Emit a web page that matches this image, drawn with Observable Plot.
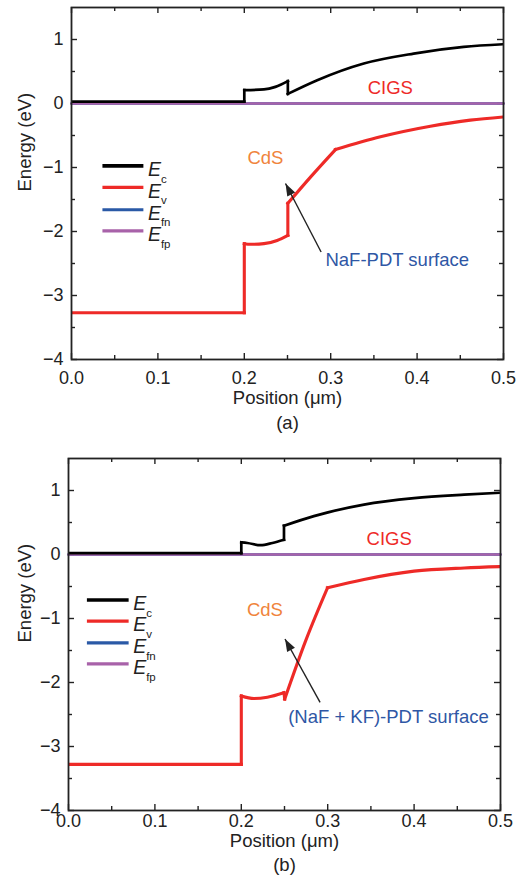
<!DOCTYPE html>
<html><head><meta charset="utf-8">
<script src="https://cdn.jsdelivr.net/npm/d3@7"></script>
<script src="https://cdn.jsdelivr.net/npm/@observablehq/plot@0.6"></script>
<style>
body{margin:0;background:#fff;}
#chart svg{display:block;}
</style></head><body><div id="chart"></div>
<script>
// ---------- data ----------
const xDomain = [0, 0.5];
const yDomain = [-4, 1.5];
const xTicks = [0, 0.1, 0.2, 0.3, 0.4, 0.5];
const xMinorTicks = [0.05, 0.15, 0.25, 0.35, 0.45];
const yTicks = [-4, -3, -2, -1, 0, 1];
const yMinorTicks = [-3.5, -2.5, -1.5, -0.5, 0.5];

// Panel (a): NaF-PDT surface
const ecA_x = [0, 0.2, 0.2, 0.2227, 0.236, 0.2504, 0.2504, 0.2844, 0.3383, 0.396, 0.454, 0.5];
const ecA_y = [0.03, 0.03, 0.21, 0.22, 0.26, 0.35, 0.15, 0.364, 0.625, 0.78, 0.884, 0.926];
const evA_x = [0, 0.2, 0.2, 0.207, 0.2227, 0.238, 0.2504, 0.2504, 0.2766, 0.3055, 0.3576, 0.4154, 0.4616, 0.5];
const evA_y = [-3.27, -3.27, -2.19, -2.2, -2.19, -2.14, -2.06, -1.56, -1.15, -0.72, -0.52, -0.355, -0.26, -0.21];

// Panel (b): (NaF + KF)-PDT surface
const ecB_x = [0, 0.2, 0.2, 0.207, 0.2224, 0.236, 0.2494, 0.2494, 0.284, 0.342, 0.40, 0.458, 0.5];
const ecB_y = [0.02, 0.02, 0.19, 0.18, 0.145, 0.18, 0.23, 0.45, 0.60, 0.78, 0.88, 0.935, 0.965];
const evB_x = [0, 0.2, 0.2, 0.2146, 0.2302, 0.2494, 0.2502, 0.275, 0.2998, 0.342, 0.40, 0.458, 0.5];
const evB_y = [-3.28, -3.28, -2.21, -2.25, -2.23, -2.16, -2.26, -1.33, -0.52, -0.39, -0.26, -0.21, -0.19];

// Quasi-Fermi levels (both panels)
const ef_x = [0, 0.5];
const efn_y = [0, 0];
const efp_y = [0, 0];

// Legend
const legendSubs = ["c", "v", "fn", "fp"];
const legendColors = ["#000000", "#ee2a27", "#2a59a6", "#a862a9"];

// ---------- drawing ----------
const FONT = "'Liberation Sans', Arial, Helvetica, sans-serif";
const rows = (xs, ys) => xs.map((x, i) => ({x, y: ys[i]}));
// split a band into smooth runs: abrupt steps (same x) become straight pieces,
// sharp kinks start a new run so the smoothing does not round them off
function segments(xs, ys) {
  const pts = rows(xs, ys);
  const out = [];
  let seg = 0;
  const slope = (a, b) => (b.y - a.y) / (b.x - a.x);
  for (let i = 0; i < pts.length; i++) {
    const p = pts[i];
    if (i > 0 && p.x === pts[i - 1].x) {
      seg++;
      out.push({...pts[i - 1], z: seg});
      out.push({...p, z: seg});
      seg++;
      out.push({...p, z: seg});
      continue;
    }
    out.push({...p, z: seg});
    if (i > 0 && i < pts.length - 1 && pts[i + 1].x !== p.x && pts[i - 1].x !== p.x) {
      const s0 = slope(pts[i - 1], p), s1 = slope(p, pts[i + 1]);
      const hi = Math.max(Math.abs(s0), Math.abs(s1)), lo = Math.min(Math.abs(s0), Math.abs(s1));
      if (hi > 5 && (Math.sign(s0) !== Math.sign(s1) || hi / lo > 3.5)) {
        seg++;
        out.push({...p, z: seg});
      }
    }
  }
  return out;
}

const headSymbol = {
  draw(ctx, size) {
    const s = Math.sqrt(size);
    ctx.moveTo(0, 0);
    ctx.lineTo(-s * 0.36, s);
    ctx.lineTo(s * 0.36, s);
    ctx.closePath();
  }
};

function panel(cfg) {
  const W = 521;
  const {ml, mr, mt, mb, H} = cfg;
  const kx = (W - ml - mr) / (xDomain[1] - xDomain[0]);
  const ky = (H - mt - mb) / (yDomain[1] - yDomain[0]);
  const majX = 6 / ky, minX = 4 / ky, majY = 6 / kx, minY = 4 / kx;
  const a = cfg.arrow;
  const angle = Math.atan2((a.x2 - a.x1) * kx, (a.y2 - a.y1) * ky) * 180 / Math.PI;
  const ink = "#222";
  const tickRules = [];
  for (const [arr, len] of [[xTicks, majX], [xMinorTicks, minX]]) {
    tickRules.push(Plot.ruleX(arr, {x: d => d, y1: yDomain[0], y2: yDomain[0] + len, stroke: ink, strokeWidth: 1.4}));
    tickRules.push(Plot.ruleX(arr, {x: d => d, y1: yDomain[1], y2: yDomain[1] - len, stroke: ink, strokeWidth: 1.4}));
  }
  for (const [arr, len] of [[yTicks, majY], [yMinorTicks, minY]]) {
    tickRules.push(Plot.ruleY(arr, {y: d => d, x1: xDomain[0], x2: xDomain[0] + len, stroke: ink, strokeWidth: 1.4}));
    tickRules.push(Plot.ruleY(arr, {y: d => d, x1: xDomain[1], x2: xDomain[1] - len, stroke: ink, strokeWidth: 1.4}));
  }
  const leg = legendSubs.map((s, i) => ({s, c: legendColors[i], y: cfg.legendY[i], w: i === 0 ? 3.6 : 3.2}));
  const band = {x: "x", y: "y", z: "z", curve: "monotone-x", strokeLinecap: "square", strokeLinejoin: "miter", clip: true};
  return Plot.plot({
    width: W, height: H,
    marginLeft: ml, marginRight: mr, marginTop: mt, marginBottom: mb,
    style: {fontFamily: FONT, fontSize: "18px", color: ink, background: "#fff"},
    x: {domain: xDomain, axis: null},
    y: {domain: yDomain, axis: null},
    marks: [
      Plot.axisX(xTicks, {anchor: "bottom", tickSize: 0, tickPadding: cfg.xPad, tickFormat: d3.format(".1f"), label: null, fontSize: 18}),
      Plot.axisY(yTicks, {anchor: "left", tickSize: 0, tickPadding: 8, tickFormat: d3.format("d"), label: null, fontSize: 18}),
      ...tickRules,
      Plot.line(rows(ef_x, efn_y), {x: "x", y: "y", stroke: legendColors[2], strokeWidth: 2.6}),
      Plot.line(rows(ef_x, efp_y), {x: "x", y: "y", stroke: legendColors[3], strokeWidth: 2.6}),
      Plot.line(segments(cfg.ecX, cfg.ecY), {...band, stroke: legendColors[0], strokeWidth: 2.7}),
      Plot.line(segments(cfg.evX, cfg.evY), {...band, stroke: legendColors[1], strokeWidth: 3.1}),
      // legend
      Plot.link(leg, {x1: cfg.legendX[0], x2: cfg.legendX[1], y1: "y", y2: "y", stroke: "c", strokeWidth: "w"}),
      Plot.text(leg, {x: cfg.legendX[1], y: "y", text: () => "E", fontStyle: "italic", fontSize: 19.5, textAnchor: "start", dx: 4.5, dy: 4, fill: ink}),
      Plot.text(leg, {x: cfg.legendX[1], y: "y", text: "s", fontSize: 11.5, textAnchor: "start", dx: 17.5, dy: 13, fill: ink}),
      // annotations
      Plot.text([cfg.cigs], {x: d => d[0], y: d => d[1], text: () => "CIGS", fill: "#ee2a27", fontSize: 18.5}),
      Plot.text([cfg.cds], {x: d => d[0], y: d => d[1], text: () => "CdS", fill: "#f0843c", fontSize: 18.5}),
      Plot.link([a], {x1: "x1", y1: "y1", x2: "x2", y2: "y2", stroke: ink, strokeWidth: 1.4}),
      Plot.dot([a], {x: "x2", y: "y2", symbol: headSymbol, r: 7, fill: ink, stroke: null, rotate: angle}),
      Plot.text([cfg.label], {x: d => d.x, y: d => d.y, text: d => d.t, fill: "#2f57a5", fontSize: 18.5}),
      // axis titles & caption
      Plot.text(["Position (μm)"], {frameAnchor: "bottom", dy: cfg.xLabelDy, fontSize: 18.5, fill: ink}),
      Plot.text([cfg.caption], {frameAnchor: "bottom", dy: cfg.capDy, fontSize: 18.5, fill: ink}),
      Plot.text(["Energy (eV)"], {frameAnchor: "left", rotate: -90, dx: cfg.yLabelDx, dy: 8, fontSize: 18.5, fill: ink}),
      Plot.frame({stroke: ink, strokeWidth: 1.8})
    ]
  });
}

const chart = document.getElementById("chart");
chart.append(panel({
  H: 440, ml: 71, mr: 18, mt: 7, mb: 81,
  xPad: 12, xLabelDy: 44, capDy: 69, yLabelDx: -46,
  ecX: ecA_x, ecY: ecA_y, evX: evA_x, evY: evA_y,
  legendX: [0.0358, 0.0832], legendY: [-0.975, -1.31, -1.66, -1.99],
  cigs: [0.369, 0.234], cds: [0.2245, -0.855],
  arrow: {x1: 0.2889, y1: -2.32, x2: 0.2477, y2: -1.25},
  label: {x: 0.377, y: -2.45, t: "NaF-PDT surface"},
  caption: "(a)"
}));
chart.append(panel({
  H: 447, ml: 68, mr: 21, mt: 18, mb: 77,
  xPad: 4, xLabelDy: 36, capDy: 60, yLabelDx: -43,
  ecX: ecB_x, ecY: ecB_y, evX: evB_x, evY: evB_y,
  legendX: [0.0213, 0.0696], legendY: [-0.71, -1.04, -1.38, -1.71],
  cigs: [0.3712, 0.245], cds: [0.2273, -0.873],
  arrow: {x1: 0.2912, y1: -2.31, x2: 0.2506, y2: -1.32},
  label: {x: 0.3703, y: -2.54, t: "(NaF + KF)-PDT surface"},
  caption: "(b)"
}));
</script>
</body></html>
